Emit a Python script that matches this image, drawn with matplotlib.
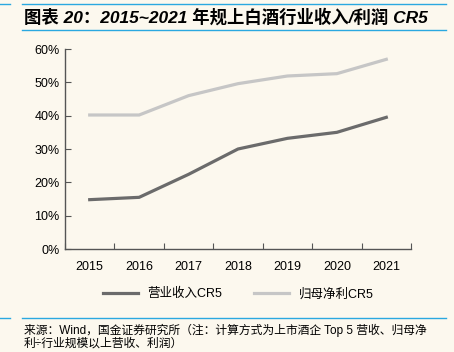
import matplotlib
matplotlib.use('Agg')
import matplotlib.pyplot as plt
from matplotlib.lines import Line2D

plt.rcParams['font.family'] = ['Liberation Sans', 'Noto Sans CJK SC', 'DejaVu Sans']

years = ['2015', '2016', '2017', '2018', '2019', '2020', '2021']
revenue_cr5 = [14.8, 15.5, 22.4, 30.0, 33.2, 35.0, 39.5]
profit_cr5 = [40.2, 40.2, 46.0, 49.6, 51.9, 52.6, 56.9]
yticks = [0, 10, 20, 30, 40, 50, 60]

bg = '#fcf8ee'
blue = '#2aa8e0'

fig = plt.figure(figsize=(4.54, 3.52), dpi=100, facecolor=bg)

# header / footer rules
fig.add_artist(Line2D([22/454, 446/454], [1 - 4/352, 1 - 4/352], color=blue, lw=1.0))
fig.add_artist(Line2D([0, 10/454], [1 - 4/352, 1 - 4/352], color=blue, lw=1.0))
fig.add_artist(Line2D([22/454, 446/454], [1 - 30/352, 1 - 30/352], color=blue, lw=1.0))
fig.add_artist(Line2D([22/454, 446/454], [1 - 318/352, 1 - 318/352], color=blue, lw=1.0))
fig.add_artist(Line2D([0, 10/454], [1 - 318/352, 1 - 318/352], color=blue, lw=1.0))

fig.text(24/454, 1 - 17/352, '图表 20：2015~2021 年规上白酒行业收入/利润 CR5',
         fontsize=12.5, fontweight='bold', style='italic', va='center', ha='left')

ax = fig.add_axes([65/454, 1 - 249/352, 346/454, 200/352])
ax.set_facecolor(bg)
x = range(len(years))
ax.plot(x, revenue_cr5, color='#6b6b6b', lw=2.3, label='营业收入CR5')
ax.plot(x, profit_cr5, color='#c6c6c6', lw=2.3, label='归母净利CR5')

ax.set_xlim(-0.5, len(years) - 0.5)
ax.set_ylim(0, 60)
ax.set_yticks(yticks)
ax.set_yticklabels([f'{v}%' for v in yticks], fontsize=9)
ax.set_xticks([i + 0.5 for i in range(-1, len(years))], minor=False)
ax.set_xticklabels([])
ax.set_xticks(list(x), minor=True)
ax.set_xticklabels(years, minor=True, fontsize=9)
ax.tick_params(axis='x', which='major', length=4, color='#555555', direction='in')
ax.tick_params(axis='x', which='minor', length=0, pad=9)
ax.tick_params(axis='y', length=4, color='#555555', direction='in', pad=4)
for s in ['top', 'right']:
    ax.spines[s].set_visible(False)
for s in ['left', 'bottom']:
    ax.spines[s].set_color('#555555')
    ax.spines[s].set_linewidth(1.0)

ax.legend(loc='upper center', bbox_to_anchor=(0.5, -0.14), ncol=2, frameon=False,
          fontsize=9, handlelength=2.8, columnspacing=2.5)

fig.text(24/454, 1 - 330/352, '来源：Wind，国金证券研究所（注：计算方式为上市酒企 Top 5 营收、归母净',
         fontsize=8.5, va='center', ha='left')
fig.text(24/454, 1 - 344/352, '利÷行业规模以上营收、利润）',
         fontsize=8.5, va='center', ha='left')

fig.savefig('out.png', dpi=100, facecolor=bg)
